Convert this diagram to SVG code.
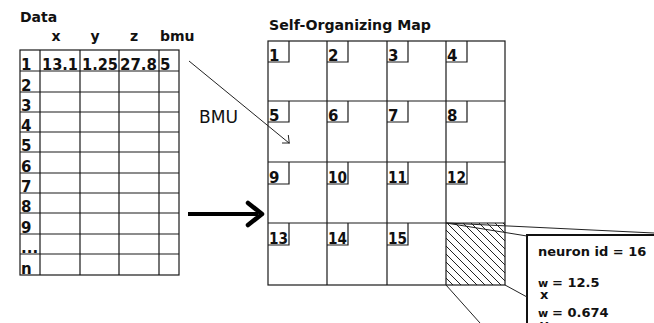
<svg xmlns="http://www.w3.org/2000/svg" width="654" height="323" viewBox="0 0 654 323">
<style>
.ln{stroke:#1a1a1a;stroke-width:1.2;fill:none}
.thin{stroke:#222;stroke-width:1;fill:none}
.b{font-family:"DejaVu Sans","Liberation Sans",sans-serif;font-weight:bold;fill:#111}
.r{font-family:"DejaVu Sans","Liberation Sans",sans-serif;fill:#111}
.cn{font-size:15px}
.rn{font-size:15px}
</style>
<defs>
<pattern id="hatch" patternUnits="userSpaceOnUse" width="8" height="8">
<path d="M-2,-2 L10,10 M-2,6 L2,10 M6,-2 L10,2" stroke="#222" stroke-width="1"/>
</pattern>
</defs>
<rect width="654" height="323" fill="#fff"/>

<g id="data-table">
<text class="b" x="20" y="22" font-size="14">Data</text>
<text class="b" x="56" y="41" font-size="14" text-anchor="middle">x</text>
<text class="b" x="95" y="41" font-size="14" text-anchor="middle">y</text>
<text class="b" x="134" y="41" font-size="14" text-anchor="middle">z</text>
<text class="b" x="160" y="41" font-size="14">bmu</text>
<rect class="ln" x="20" y="50" width="159" height="225"/>
<path class="ln" d="M40,50V275 M80,50V275 M119,50V275 M159,50V275"/>
<path class="ln" d="M20,71H179 M20,92H179 M20,112H179 M20,132H179 M20,152H179 M20,173H179 M20,193H179 M20,213H179 M20,234H179 M20,254H179"/>
<g class="b rn">
<text x="21" y="70">1</text>
<text x="21" y="91">2</text>
<text x="21" y="111">3</text>
<text x="21" y="131">4</text>
<text x="21" y="151">5</text>
<text x="21" y="172">6</text>
<text x="21" y="192">7</text>
<text x="21" y="212">8</text>
<text x="21" y="233">9</text>
<text x="21" y="253">...</text>
<text x="21" y="274">n</text>
<text x="42" y="70" textLength="36" lengthAdjust="spacingAndGlyphs">13.1</text>
<text x="82" y="70" textLength="36" lengthAdjust="spacingAndGlyphs">1.25</text>
<text x="120" y="70" textLength="37" lengthAdjust="spacingAndGlyphs">27.8</text>
<text x="160" y="70">5</text>
</g>
</g>

<g id="som">
<text class="b" x="269" y="30" font-size="14" textLength="162" lengthAdjust="spacingAndGlyphs">Self-Organizing Map</text>
<rect x="446" y="223" width="59" height="62" fill="url(#hatch)"/>
<rect class="ln" x="268" y="41" width="237" height="244"/>
<path class="ln" d="M327,41V285 M387,41V285 M446,41V285 M268,101H505 M268,162H505 M268,223H505"/>
</g>

<g id="cell-1"><path class="ln" d="M268,62H289V41"/><text class="b cn" x="269" y="61">1</text></g>
<g id="cell-2"><path class="ln" d="M327,62H348V41"/><text class="b cn" x="328" y="61">2</text></g>
<g id="cell-3"><path class="ln" d="M387,62H408V41"/><text class="b cn" x="388" y="61">3</text></g>
<g id="cell-4"><path class="ln" d="M446,62H467V41"/><text class="b cn" x="447" y="61">4</text></g>
<g id="cell-5"><path class="ln" d="M268,122H289V101"/><text class="b cn" x="269" y="121">5</text></g>
<g id="cell-6"><path class="ln" d="M327,122H348V101"/><text class="b cn" x="328" y="121">6</text></g>
<g id="cell-7"><path class="ln" d="M387,122H408V101"/><text class="b cn" x="388" y="121">7</text></g>
<g id="cell-8"><path class="ln" d="M446,122H467V101"/><text class="b cn" x="447" y="121">8</text></g>
<g id="cell-9"><path class="ln" d="M268,184H289V162"/><text class="b cn" x="269" y="183">9</text></g>
<g id="cell-10"><path class="ln" d="M327,184H348V162"/><text class="b cn" x="328" y="183" textLength="19" lengthAdjust="spacingAndGlyphs">10</text></g>
<g id="cell-11"><path class="ln" d="M387,184H408V162"/><text class="b cn" x="388" y="183" textLength="19" lengthAdjust="spacingAndGlyphs">11</text></g>
<g id="cell-12"><path class="ln" d="M446,184H467V162"/><text class="b cn" x="447" y="183" textLength="19" lengthAdjust="spacingAndGlyphs">12</text></g>
<g id="cell-13"><path class="ln" d="M268,245H289V223"/><text class="b cn" x="269" y="244" textLength="19" lengthAdjust="spacingAndGlyphs">13</text></g>
<g id="cell-14"><path class="ln" d="M327,245H348V223"/><text class="b cn" x="328" y="244" textLength="19" lengthAdjust="spacingAndGlyphs">14</text></g>
<g id="cell-15"><path class="ln" d="M387,245H408V223"/><text class="b cn" x="388" y="244" textLength="19" lengthAdjust="spacingAndGlyphs">15</text></g>

<g id="neuron-info">
<rect x="527" y="235" width="130" height="92" fill="#fff"/>
<path d="M527,323V235H654" stroke="#111" stroke-width="2" fill="none"/>
<text class="b" x="538" y="256" font-size="13">neuron id = 16</text>
<text class="b" x="538" y="287" font-size="13"><tspan font-size="11">w</tspan><tspan x="540" dy="12">x</tspan><tspan x="552" dy="-12">= 12.5</tspan></text>
<text class="b" x="538" y="317" font-size="13"><tspan font-size="11">w</tspan><tspan x="540" dy="12">y</tspan><tspan x="552" dy="-12">= 0.674</tspan></text>
</g>

<g id="bmu-label">
<text class="r" x="199" y="123" font-size="17" textLength="39" lengthAdjust="spacingAndGlyphs">BMU</text>
</g>

<g id="connectors">
<path class="thin" d="M189,61L289,143 M282,143H289.5 M288.3,135L289.3,143.5"/>
<path d="M188,214H258" stroke="#000" stroke-width="4" fill="none"/>
<path d="M248,203L262,214L248,225" stroke="#000" stroke-width="4.5" fill="none" stroke-linejoin="round" stroke-linecap="round"/>
<path class="thin" d="M446,223L654,233 M446,223L527,236 M446,285L480,323 M505,285L527,297"/>
</g>
</svg>
